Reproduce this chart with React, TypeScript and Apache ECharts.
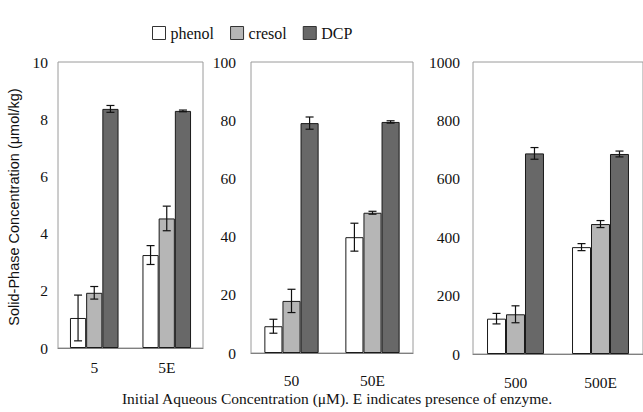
import React, { useEffect, useRef } from "react";
import * as echarts from "echarts";

const seriesNames = ["phenol", "cresol", "DCP"];
const categories1 = ["5", "5E"];
const categories2 = ["50", "50E"];
const categories3 = ["500", "500E"];

const phenol1 = [1.05, 3.25];
const cresol1 = [1.93, 4.53];
const dcp1 = [8.36, 8.29];
const phenolErr1 = [0.8, 0.33];
const cresolErr1 = [0.22, 0.43];
const dcpErr1 = [0.12, 0.03];

const phenol2 = [9.2, 39.8];
const cresol2 = [17.9, 48.2];
const dcp2 = [79.0, 79.4];
const phenolErr2 = [2.4, 4.8];
const cresolErr2 = [4.0, 0.5];
const dcpErr2 = [2.1, 0.4];

const phenol3 = [121, 366];
const cresol3 = [136, 445];
const dcp3 = [687, 685];
const phenolErr3 = [18, 12];
const cresolErr3 = [29, 12];
const dcpErr3 = [20, 10];

const yMax = [10, 100, 1000];
const yInterval = [2, 20, 200];

const SERIF = "Liberation Serif";
const SANS = "Liberation Sans";
const colors = ["#ffffff", "#b6b6b6", "#686868"];
const GAP = 0.33;

export default function App() {
  const ref = useRef<HTMLDivElement>(null);
  useEffect(() => {
    if (!ref.current) return;
    const chart = echarts.init(ref.current, undefined, { renderer: "svg" });
    const panels = [
      { cats: categories1, vals: [phenol1, cresol1, dcp1], errs: [phenolErr1, cresolErr1, dcpErr1] },
      { cats: categories2, vals: [phenol2, cresol2, dcp2], errs: [phenolErr2, cresolErr2, dcpErr2] },
      { cats: categories3, vals: [phenol3, cresol3, dcp3], errs: [phenolErr3, cresolErr3, dcpErr3] },
    ];
    const grids = [
      { left: 58, top: 62, width: 145, height: 286 },
      { left: 251, top: 62, width: 162, height: 291 },
      { left: 473, top: 62, width: 174, height: 292 },
    ];
    const labelMargins = [11, 19, 20];
    const yLabelMargins = [10, 15, 13];

    const series: any[] = [];
    panels.forEach((p, pi) => {
      p.vals.forEach((v, k) => {
        series.push({
          type: "bar",
          name: seriesNames[k],
          xAxisIndex: pi,
          yAxisIndex: pi,
          data: v,
          barGap: "0%",
          barCategoryGap: GAP * 100 + "%",
          itemStyle: { color: colors[k], borderColor: "#1a1a1a", borderWidth: 1 },
        });
      });
      const errData: number[][] = [];
      p.vals.forEach((v, k) => {
        v.forEach((val, ci) => {
          errData.push([ci, val - p.errs[k][ci], val + p.errs[k][ci], k]);
        });
      });
      series.push({
        type: "custom",
        xAxisIndex: pi,
        yAxisIndex: pi,
        data: errData,
        z: 10,
        renderItem: (params: any, api: any) => {
          const cat = api.value(0);
          const lo = api.value(1);
          const hi = api.value(2);
          const k = api.value(3);
          const catW = api.size([1, 0])[0];
          const barW = (catW * (1 - GAP)) / 3;
          const x = api.coord([cat, 0])[0] + (k - 1) * barW;
          const yLo = api.coord([cat, lo])[1];
          const yHi = api.coord([cat, hi])[1];
          const cap = 4;
          const st = { stroke: "#111", lineWidth: 1.2 };
          return {
            type: "group",
            children: [
              { type: "line", shape: { x1: x, y1: yLo, x2: x, y2: yHi }, style: st },
              { type: "line", shape: { x1: x - cap, y1: yHi, x2: x + cap, y2: yHi }, style: st },
              { type: "line", shape: { x1: x - cap, y1: yLo, x2: x + cap, y2: yLo }, style: st },
            ],
          };
        },
      });
    });

    const tickText = { fontFamily: SERIF, fontSize: 15.5, color: "#111" };

    chart.setOption({
      animation: false,
      backgroundColor: "#ffffff",
      legend: {
        data: seriesNames,
        left: 147,
        top: 20,
        itemWidth: 13,
        itemHeight: 13,
        itemGap: 16,
        icon: "rect",
        textStyle: { fontFamily: SERIF, fontSize: 16, color: "#111" },
        itemStyle: { borderColor: "#333", borderWidth: 1 },
      },
      grid: grids.map((g) => ({ ...g, show: true, borderColor: "#9a9a9a", borderWidth: 1, containLabel: false })),
      xAxis: panels.map((p, pi) => ({
        type: "category",
        gridIndex: pi,
        data: p.cats,
        axisTick: { show: false },
        axisLine: { show: true, lineStyle: { color: "#808080", width: 1.2 } },
        axisLabel: { ...tickText, margin: labelMargins[pi] },
      })),
      yAxis: panels.map((p, pi) => ({
        type: "value",
        gridIndex: pi,
        min: 0,
        max: yMax[pi],
        interval: yInterval[pi],
        splitLine: { show: false },
        axisTick: { show: false },
        axisLine: { show: false },
        axisLabel: {
          ...tickText,
          margin: yLabelMargins[pi],
          formatter: (v: number) => String(v),
        },
      })),
      graphic: [
        {
          type: "text",
          x: 14,
          y: 207,
          rotation: Math.PI / 2,
          style: {
            text: "Solid-Phase Concentration (\u03bcmol/kg)",
            fontFamily: SANS,
            fontSize: 14.5,
            fill: "#111",
            align: "center",
            verticalAlign: "middle",
          },
        },
        {
          type: "text",
          x: 337,
          y: 398,
          style: {
            text: "Initial Aqueous Concentration (\u03bcM). E indicates presence of enzyme.",
            fontFamily: SERIF,
            fontSize: 15.5,
            fill: "#111",
            align: "center",
            verticalAlign: "middle",
          },
        },
      ],
      series,
    });
    return () => chart.dispose();
  }, []);
  return (
    <div
      ref={ref}
      style={{ position: "fixed", left: 0, top: 0, width: 643, height: 412, background: "#fff" }}
    />
  );
}
